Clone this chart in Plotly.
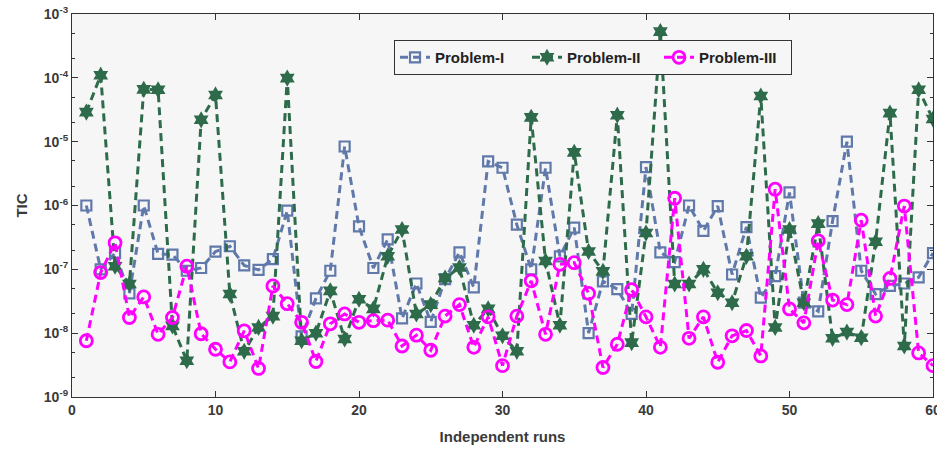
import plotly.graph_objects as go

# Independent runs 1..60
runs = list(range(1, 61))

# TIC values per run
problem_1 = [
    1.0e-6, 1.0e-7, 1.8e-7, 4.2e-8, 1.0e-6, 1.75e-7, 1.7e-7, 9.5e-8, 1.05e-7, 1.9e-7,
    2.3e-7, 1.15e-7, 9.8e-8, 1.45e-7, 8.3e-7, 8.9e-9, 3.5e-8, 9.5e-8, 8.4e-6, 4.7e-7,
    1.05e-7, 2.95e-7, 1.7e-8, 6.0e-8, 1.5e-8, 7.0e-8, 1.85e-7, 5.2e-8, 4.9e-6, 3.9e-6,
    5.0e-7, 1.0e-7, 3.9e-6, 1.6e-7, 4.5e-7, 1.0e-8, 6.5e-8, 4.9e-8, 2.0e-8, 4.0e-6,
    1.85e-7, 1.3e-7, 1.0e-6, 4.0e-7, 9.8e-7, 8.3e-8, 4.6e-7, 3.6e-8, 7.8e-8, 1.6e-6,
    3.0e-8, 2.2e-8, 5.7e-7, 1.0e-5, 9.5e-8, 4.1e-8, 5.5e-8, 6.0e-8, 7.5e-8, 1.8e-7,
]
problem_2 = [
    2.9e-5, 1.1e-4, 1.12e-7, 5.9e-8, 6.6e-5, 6.5e-5, 1.3e-8, 3.7e-9, 2.2e-5, 5.4e-5,
    4.1e-8, 5.2e-9, 1.23e-8, 1.85e-8, 9.9e-5, 7.6e-9, 1.0e-8, 4.6e-8, 8.1e-9, 3.4e-8,
    2.4e-8, 1.6e-7, 4.2e-7, 2.0e-8, 2.8e-8, 7.3e-8, 1.07e-7, 1.33e-8, 2.4e-8, 9.1e-9,
    5.2e-9, 2.4e-5, 1.35e-7, 1.33e-8, 6.8e-6, 1.9e-7, 9.3e-8, 2.6e-5, 7.1e-9, 3.7e-7,
    5.3e-4, 5.9e-8, 5.9e-8, 1.0e-7, 4.3e-8, 3.0e-8, 1.6e-7, 5.2e-5, 1.23e-8, 4.2e-7,
    3.0e-8, 5.2e-7, 8.3e-9, 1.04e-8, 8.5e-9, 2.7e-7, 2.8e-5, 6.3e-9, 6.5e-5, 2.26e-5,
]
problem_3 = [
    7.6e-9, 8.9e-8, 2.6e-7, 1.76e-8, 3.7e-8, 9.6e-9, 1.76e-8, 1.12e-7, 9.8e-9, 5.6e-9,
    3.55e-9, 1.09e-8, 2.8e-9, 5.5e-8, 2.9e-8, 1.48e-8, 3.6e-9, 1.4e-8, 2.0e-8, 1.48e-8,
    1.57e-8, 1.6e-8, 6.3e-9, 9.3e-9, 5.4e-9, 1.85e-8, 2.8e-8, 6.0e-9, 1.8e-8, 3.1e-9,
    1.85e-8, 6.6e-8, 9.6e-9, 1.2e-7, 1.27e-7, 4.2e-8, 2.9e-9, 6.7e-9, 4.8e-8, 1.8e-8,
    6.0e-9, 1.3e-6, 8.3e-9, 1.8e-8, 3.5e-9, 9.1e-9, 1.1e-8, 4.4e-9, 1.8e-6, 2.4e-8,
    1.45e-8, 2.8e-7, 3.3e-8, 2.8e-8, 5.9e-7, 1.85e-8, 7.2e-8, 9.8e-7, 4.9e-9, 3.1e-9,
]

series_names = ["Problem-I", "Problem-II", "Problem-III"]

x_ticks = [0, 10, 20, 30, 40, 50, 60]
y_ticks = [1e-9, 1e-8, 1e-7, 1e-6, 1e-5, 1e-4, 1e-3]
y_ticktext = ["10<sup>-9</sup>", "10<sup>-8</sup>", "10<sup>-7</sup>", "10<sup>-6</sup>",
              "10<sup>-5</sup>", "10<sup>-4</sup>", "10<sup>-3</sup>"]

FONT = "Liberation Sans, Arial, sans-serif"
DASH = "8px,5px"

fig = go.Figure()

fig.add_trace(go.Scatter(
    x=runs, y=problem_1, name=series_names[0], mode="lines+markers",
    line=dict(color="#6079aa", width=3, dash=DASH),
    marker=dict(symbol="square-open", size=10, color="#6079aa", line=dict(width=2.2)),
))
fig.add_trace(go.Scatter(
    x=runs, y=problem_2, name=series_names[1], mode="lines+markers",
    line=dict(color="#2e6b4b", width=3, dash=DASH),
    marker=dict(symbol="hexagram", size=13, color="#2e6b4b", line=dict(width=0)),
))
fig.add_trace(go.Scatter(
    x=runs, y=problem_3, name=series_names[2], mode="lines+markers",
    line=dict(color="#ff00ff", width=3, dash=DASH),
    marker=dict(symbol="circle-open", size=12, color="#ff00ff", line=dict(width=2.8)),
))

axis_common = dict(
    showline=True, linecolor="#333333", linewidth=1.2, mirror="allticks",
    ticks="inside", tickcolor="#333333", ticklen=6, tickwidth=1,
    showgrid=False, zeroline=False, ticklabeloverflow="allow", automargin=False,
    tickfont=dict(family=FONT, size=14, color="#3a3a3a", weight="bold"),
)

fig.update_xaxes(
    range=[0, 60], tickvals=x_ticks, ticktext=[str(v) for v in x_ticks],
    title=dict(text="Independent runs", font=dict(family=FONT, size=15, color="#3a3a3a", weight="bold"),
               standoff=14),
    **axis_common,
)
fig.update_yaxes(
    type="log", range=[-9, -3], tickvals=y_ticks, ticktext=y_ticktext,
    minor=dict(ticks="inside", ticklen=3, tickcolor="#333333", showgrid=False),
    title=dict(text="TIC", font=dict(family=FONT, size=15, color="#3a3a3a", weight="bold"),
               standoff=12),
    **axis_common,
)

fig.update_layout(
    width=937, height=452,
    margin=dict(l=72, r=4, t=14, b=55),
    paper_bgcolor="white",
    plot_bgcolor="#f6f6f6",
    showlegend=True,
    legend=dict(
        orientation="h", x=0.374, y=0.932, xanchor="left", yanchor="top",
        bgcolor="#f6f6f6", bordercolor="#333333", borderwidth=1,
        font=dict(family=FONT, size=15, color="#222222", weight="bold"),
        itemwidth=30, tracegroupgap=0, entrywidth=87, entrywidthmode="pixels",
    ),
)

fig.write_html("out.html")
